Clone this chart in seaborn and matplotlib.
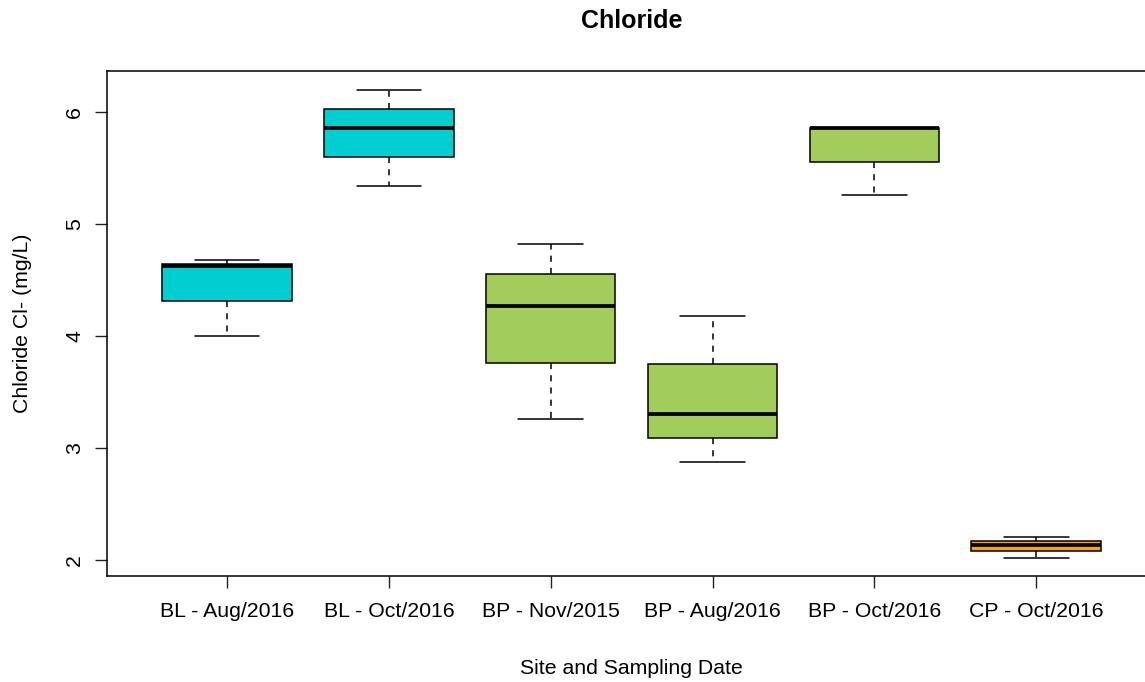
import numpy as np
import pandas as pd
import matplotlib
matplotlib.use('Agg')
import matplotlib.pyplot as plt
import seaborn as sns

# 采样点和日期
sites = ['BL - Aug/2016', 'BL - Oct/2016', 'BP - Nov/2015',
         'BP - Aug/2016', 'BP - Oct/2016', 'CP - Oct/2016']

# 五数概括 (mg/L)
cl_min = [4.00, 5.34, 3.26, 2.875, 5.26, 2.02]
cl_q1 = [4.31, 5.60, 3.76, 3.09, 5.55, 2.083]
cl_median = [4.625, 5.855, 4.27, 3.305, 5.855, 2.134]
cl_q3 = [4.644, 6.03, 4.55, 3.75, 5.86, 2.167]
cl_max = [4.68, 6.20, 4.82, 4.18, 5.86, 2.203]

box_colors = ['#00CED1', '#00CED1', '#A2CD5A', '#A2CD5A', '#A2CD5A', '#FFA500']


def build_frame():
    # 每组5个值 -> 分位数正好落在这些值上
    rows = []
    for i, s in enumerate(sites):
        for v in (cl_min[i], cl_q1[i], cl_median[i], cl_q3[i], cl_max[i]):
            rows.append({'site': s, 'chloride': v})
    return pd.DataFrame(rows)


def main():
    sns.set_style('ticks')
    plt.rcParams['font.family'] = ['Liberation Sans', 'DejaVu Sans']
    plt.rcParams['text.color'] = 'black'
    plt.rcParams['axes.labelcolor'] = 'black'

    df = build_frame()

    fig = plt.figure(figsize=(11.45, 6.82), dpi=100)
    ax = fig.add_axes([0.0937, 0.1551, 0.9159, 0.7415])

    sns.boxplot(data=df, x='site', y='chloride', hue='site', order=sites,
                hue_order=sites, palette=box_colors, legend=False,
                width=0.8, linewidth=1.1, linecolor='black', whis=1.5,
                showfliers=False, saturation=1,
                whiskerprops=dict(linestyle=(0, (4, 4))),
                medianprops=dict(linewidth=2.7, color='black'),
                ax=ax)

    ax.set_xlim(-0.74, 5.74)
    ax.set_ylim(1.855, 6.37)
    ax.set_yticks([2, 3, 4, 5, 6])

    for side in ['top', 'right', 'left', 'bottom']:
        ax.spines[side].set_visible(True)
        ax.spines[side].set_linewidth(1.1)
        ax.spines[side].set_color('black')

    ax.tick_params(axis='both', length=8.6, width=1, color='#222222',
                   labelsize=15.3, labelcolor='black')
    ax.tick_params(axis='x', pad=10)
    ax.tick_params(axis='y', pad=8, labelrotation=90)
    for lab in ax.get_yticklabels():
        lab.set_va('center')

    ax.set_title('Chloride', fontsize=18, fontweight='bold', y=1.097,
                 va='center', pad=0, color='black')
    ax.set_xlabel('Site and Sampling Date', fontsize=15.3, va='center')
    ax.set_ylabel('Chloride Cl- (mg/L)', fontsize=15.3, va='center')
    ax.xaxis.set_label_coords(0.5, -0.1815)
    ax.yaxis.set_label_coords(-0.0813, 0.5)

    fig.savefig('out.png', dpi=100)
    plt.close(fig)


if __name__ == '__main__':
    main()
